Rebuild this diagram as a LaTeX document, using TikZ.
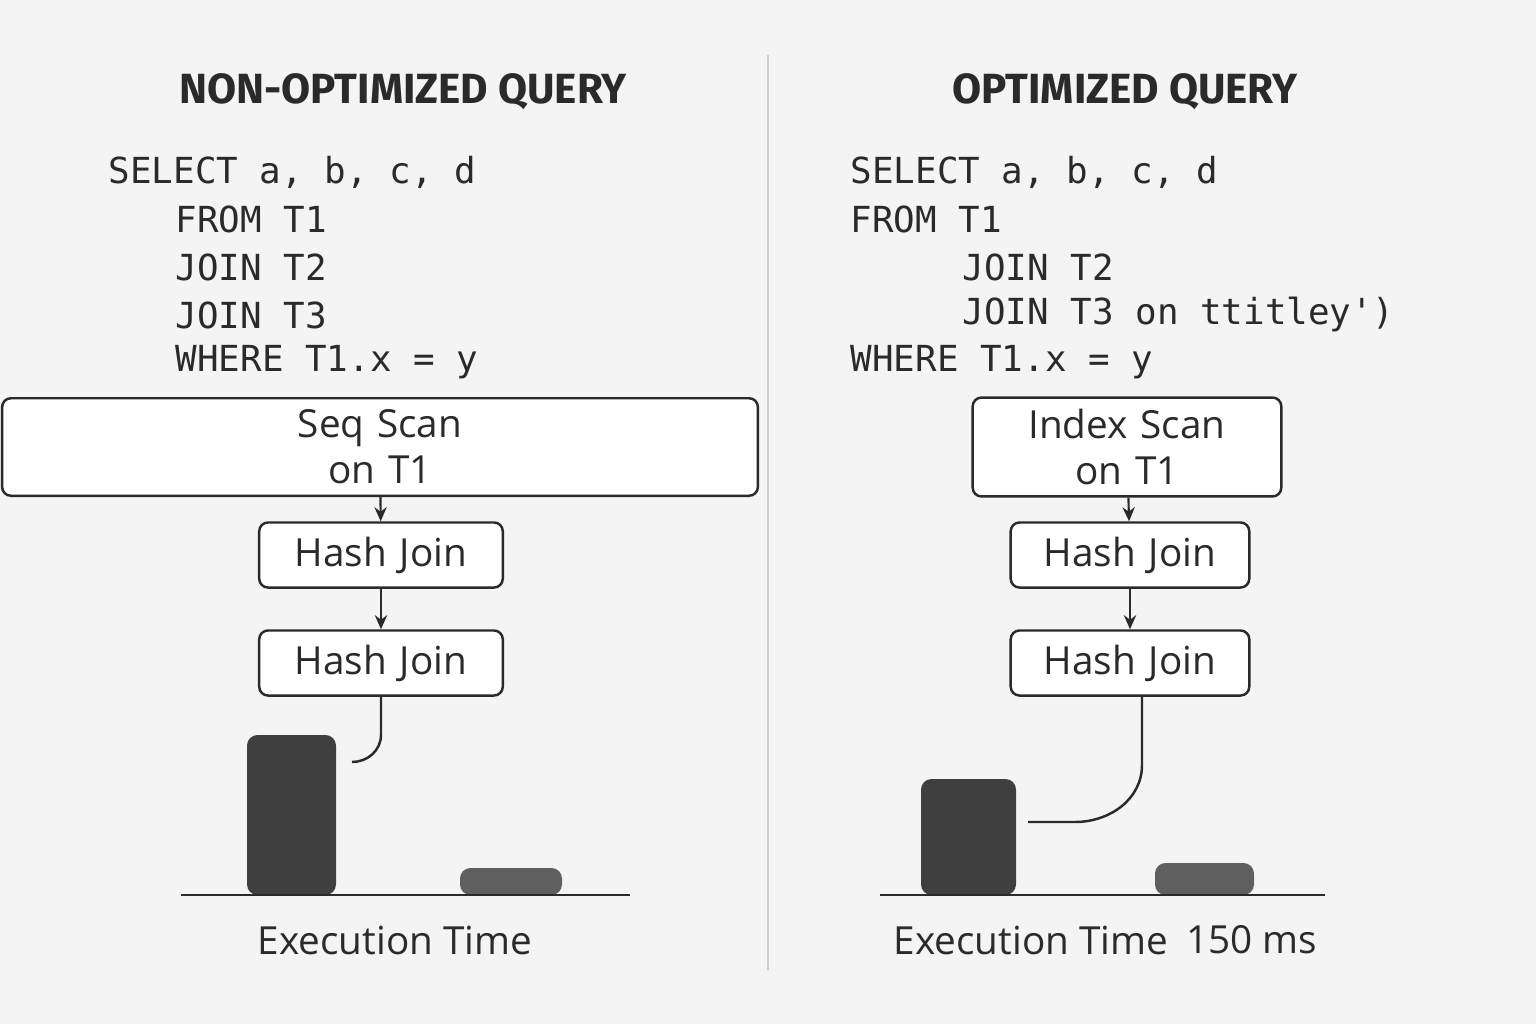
\documentclass[tikz,border=0pt]{standalone}
\usepackage{fontspec}
\setmainfont{Open Sans}
\setmonofont{DejaVu Sans Mono}
\newfontfamily\titlefont{Fira Sans}
\usetikzlibrary{arrows.meta}
\definecolor{paper}{HTML}{F4F4F4}
\definecolor{ink}{HTML}{2A2A2A}
\tikzset{
  planbox/.style={draw=ink, line width=0.7pt, rounded corners=2.5pt, fill=white, font=\fontsize{11}{13}\selectfont, text=ink},
  codeline/.style={anchor=west, font=\ttfamily\fontsize{10.2}{12}\selectfont, text=ink, inner sep=0pt},
  heading/.style={font=\titlefont\bfseries\fontsize{12}{14}\selectfont, text=ink},
  flow/.style={-{Stealth[length=4pt,width=3.5pt]}, draw=ink, line width=0.6pt},
  axislabel/.style={font=\fontsize{11}{13}\selectfont, text=ink}
}
\begin{document}
\begin{tikzpicture}[x=0.01cm, y=-0.01cm]
  \fill[paper] (0,0) rectangle (1536,1024);
  \useasboundingbox (0,0) rectangle (1536,1024);
  \draw[gray!40, line width=0.6pt] (768,55) -- (768,970);

  % left panel
  \node[heading] (titleL) at (403,92) {NON-OPTIMIZED QUERY};
  \node[codeline] (l1) at (108,172) {SELECT a, b, c, d};
  \node[codeline] (l2) at (175,219) {FROM T1};
  \node[codeline] (l3) at (175,267) {JOIN T2};
  \node[codeline] (l4) at (175,315) {JOIN T3};
  \node[codeline] (l5) at (175,362) {WHERE T1.x = y};
  \node[planbox, minimum width=307\pgflinewidth, text width=2.75cm, align=center, minimum height=0.65cm] (seqL) at (380,447) {Seq Scan on T1};
  \node[planbox, text width=2.2cm, align=center, minimum height=0.65cm] (hashAL) at (381,555) {Hash Join};
  \node[planbox, text width=2.2cm, align=center, minimum height=0.65cm] (hashBL) at (381,663) {Hash Join};
  \draw[flow] (seqL) -- (hashAL);
  \draw[flow] (hashAL) -- (hashBL);
  \fill[ink!90, rounded corners=3pt] (247,895) rectangle (336,735);
  \fill[ink!75, rounded corners=3pt] (460,895) rectangle (562,868);
  \coordinate (barL) at (352,762);
  \draw[ink, line width=0.7pt] (hashBL.south) -- (381,735) to[out=-90, in=0] (barL);
  \draw[ink, line width=0.8pt] (181,895) -- (630,895);
  \node[axislabel] (timeL) at (395,940) {Execution Time};

  % right panel
  \node[heading] (titleR) at (1125,92) {OPTIMIZED QUERY};
  \node[codeline] (r1) at (850,172) {SELECT a, b, c, d};
  \node[codeline] (r2) at (850,219) {FROM T1};
  \node[codeline] (r3) at (962,267) {JOIN T2};
  \node[codeline] (r4) at (962,315) {JOIN T3 on ttitley')};
  \node[codeline] (r5) at (850,362) {WHERE T1.x = y};
  \node[planbox, text width=2.85cm, align=center, minimum height=0.65cm] (idxR) at (1127,447) {Index Scan on T1};
  \node[planbox, text width=2.15cm, align=center, minimum height=0.65cm] (hashAR) at (1130,555) {Hash Join};
  \node[planbox, text width=2.15cm, align=center, minimum height=0.65cm] (hashBR) at (1130,663) {Hash Join};
  \draw[flow] (idxR) -- (hashAR);
  \draw[flow] (hashAR) -- (hashBR);
  \fill[ink!90, rounded corners=3pt] (921,895) rectangle (1016,779);
  \fill[ink!75, rounded corners=3pt] (1155,895) rectangle (1254,863);
  \coordinate (barR) at (1028,822);
  \draw[ink, line width=0.7pt] (1142,697) -- (1142,765) to[out=-90, in=0] (1075,822) -- (barR);
  \draw[ink, line width=0.8pt] (880,895) -- (1325,895);
  \node[axislabel] (timeR) at (1031,940) {Execution Time};
  \node[axislabel] (msR) at (1252,940) {150 ms};
\end{tikzpicture}
\end{document}
